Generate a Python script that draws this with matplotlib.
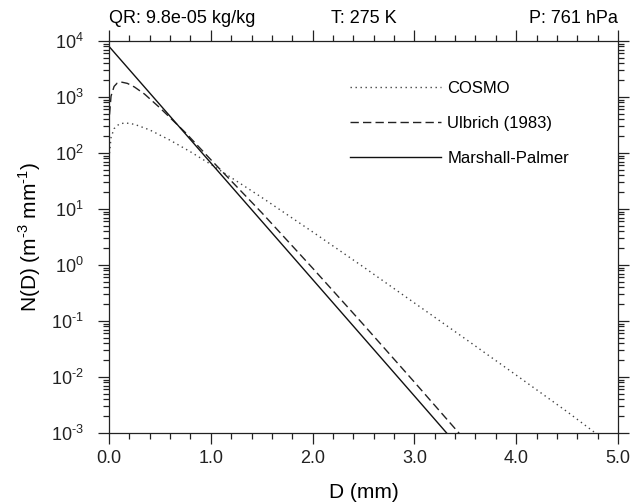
import matplotlib
matplotlib.use('Agg')
import matplotlib.pyplot as plt
from matplotlib.ticker import FixedLocator, LogLocator, NullFormatter

plt.rcParams['font.family'] = ['Liberation Sans', 'DejaVu Sans']
plt.rcParams['mathtext.fontset'] = 'custom'
plt.rcParams['mathtext.rm'] = 'Liberation Sans'

# ---------------------------------------------------------------------------
# Data (D in mm, N in m^-3 mm^-1)
# ---------------------------------------------------------------------------
cosmo_d = [0.005, 0.02, 0.05, 0.1, 0.16, 0.25, 0.4, 0.6, 0.8, 1.0,
           1.5, 2.0, 2.5, 3.0, 3.5, 4.0, 4.5, 4.9]
cosmo_n = [99, 189, 272, 329, 345, 325, 258, 169, 105, 62.7,
           16.1, 3.9, 0.92, 0.21, 0.048, 0.0108, 0.0024, 0.00068]

ulb_d = [0.005, 0.02, 0.05, 0.08, 0.12, 0.18, 0.25, 0.35, 0.5, 0.75,
         1.0, 1.5, 2.0, 2.5, 3.0, 3.5]
ulb_n = [485, 1035, 1545, 1766, 1847, 1750, 1507, 1123, 640, 232,
         76, 8.6, 0.88, 0.0860, 0.0081, 0.00074]

mp_d = [0.0, 1.0, 2.0, 3.0, 3.4]
mp_n = [8000, 66.5, 0.552, 0.00458, 0.00067]

series_labels = ['COSMO', 'Ulbrich (1983)', 'Marshall-Palmer']

top_left = 'QR: 9.8e-05 kg/kg'
top_mid = 'T: 275 K'
top_right = 'P: 761 hPa'

x_ticks = [0.0, 1.0, 2.0, 3.0, 4.0, 5.0]
y_exps = [-3, -2, -1, 0, 1, 2, 3, 4]

# ---------------------------------------------------------------------------
fig = plt.figure(figsize=(6.33, 5.04), dpi=100)
ax = fig.add_axes([0.1722, 0.1409, 0.8041, 0.7778])

ax.plot(cosmo_d, cosmo_n, color='#444444', lw=1.0, ls=(0, (1, 2.6)),
        label=series_labels[0])
ax.plot(ulb_d, ulb_n, color='#222222', lw=1.0, ls=(0, (6, 3)),
        label=series_labels[1])
ax.plot(mp_d, mp_n, color='#111111', lw=1.0, ls='-',
        label=series_labels[2])

ax.set_yscale('log')
ax.set_xlim(0, 5)
ax.set_ylim(1e-3, 1e4)

ax.xaxis.set_major_locator(FixedLocator(x_ticks))
ax.set_xticklabels([f'{v:.1f}' for v in x_ticks])
ax.xaxis.set_minor_locator(FixedLocator([i * 0.2 for i in range(26)]))
ax.yaxis.set_major_locator(FixedLocator([10.0 ** e for e in y_exps]))
ax.set_yticklabels([f'$10^{{\\text{{{e}}}}}$' for e in y_exps])
ax.yaxis.set_minor_locator(LogLocator(base=10, subs=range(2, 10), numticks=20))
ax.yaxis.set_minor_formatter(NullFormatter())

ax.tick_params(which='both', direction='out', top=True, right=True,
               labeltop=False, labelright=False, width=0.9, colors='#222222')
ax.tick_params(which='major', length=8)
ax.tick_params(which='minor', length=4.3)
ax.tick_params(axis='x', labelsize=13, pad=4)
ax.tick_params(axis='y', labelsize=13, pad=10)
for s in ax.spines.values():
    s.set_linewidth(0.9)
    s.set_color('#222222')

ax.set_xlabel('D (mm)', fontsize=15, labelpad=12)
ax.set_ylabel('N(D) (m$^{\\text{-3}}$ mm$^{\\text{-1}}$)', fontsize=15, labelpad=6)

for txt, xf, ha in [(top_left, 0.0, 'left'), (top_mid, 0.5, 'center'),
                    (top_right, 1.0, 'right')]:
    ax.annotate(txt, xy=(xf, 1.0), xycoords='axes fraction',
                xytext=(0, 10), textcoords='offset points',
                ha=ha, va='bottom', fontsize=13)

leg = ax.legend(loc='upper left', bbox_to_anchor=(0.46, 0.915),
                frameon=False, fontsize=12, handlelength=5.5,
                handletextpad=0.35, labelspacing=1.2, borderaxespad=0)

fig.savefig('out.png', dpi=100)
